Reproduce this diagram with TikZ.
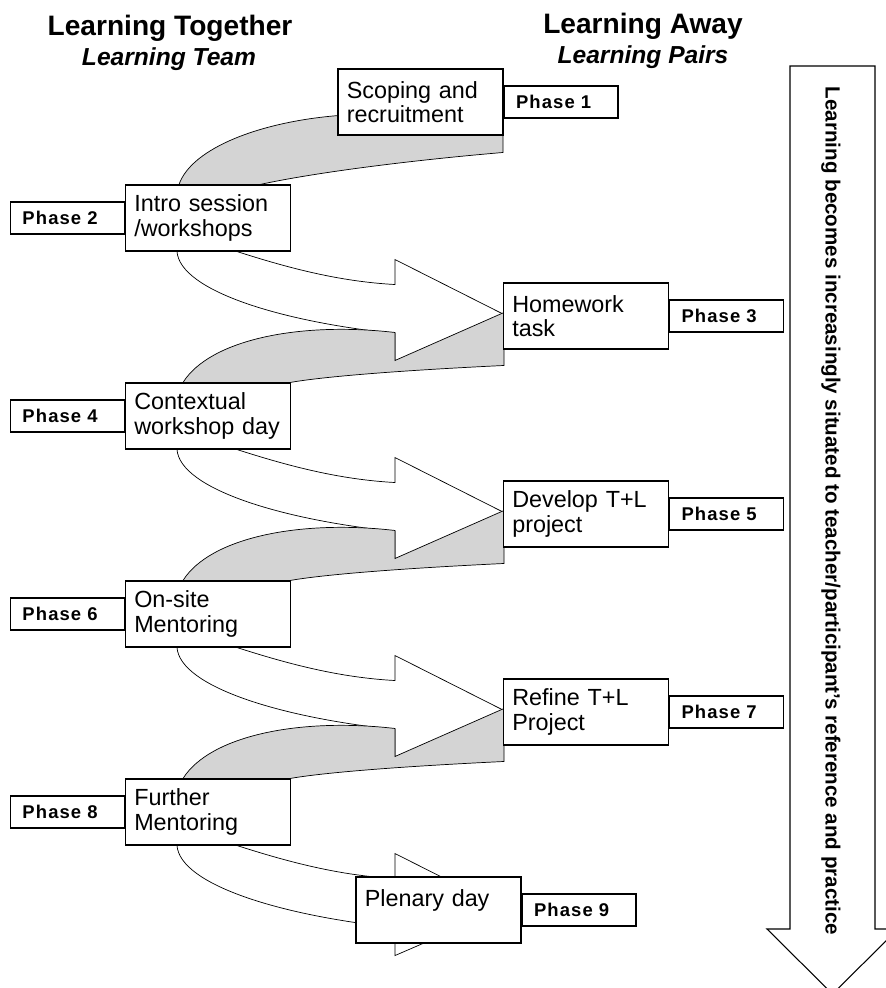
\documentclass[tikz,border=0pt]{standalone}
\usepackage{fontspec}
\setmainfont{Liberation Sans}
\newfontfamily\phasefont[LetterSpace=6]{Liberation Sans}
\usetikzlibrary{positioning,backgrounds}
\tikzstyle{stage}=[draw, fill=white, text width=2.95cm, align=left, inner sep=0pt, minimum width=3.3cm, minimum height=1.32cm, font=\fontsize{13.3}{14}\selectfont]
\tikzstyle{phase}=[draw, fill=white, text width=1.8cm, align=left, inner xsep=0.24cm, inner ysep=0pt, minimum height=0.64cm, font=\phasefont\bfseries\fontsize{10.5}{12}\selectfont]
\tikzstyle{band}=[draw, fill=black!17]
\tikzstyle{fwd}=[draw, fill=white]
\tikzstyle{title}=[anchor=base, font=\bfseries\fontsize{16}{19}\selectfont]
\tikzstyle{subtitle}=[anchor=base, font=\bfseries\itshape\fontsize{14}{17}\selectfont]

\begin{document}
\begin{tikzpicture}[x=0.02cm,y=-0.02cm,line width=0.6pt]
\useasboundingbox (0,0) rectangle (886,988);
% column headings
\node [title] (together) at (170,35) {Learning Together};
\node [subtitle] (team) at (169,65) {Learning Team};
\node [title] (away) at (643,33) {Learning Away};
\node [subtitle] (pairs) at (643,63) {Learning Pairs};
% big arrow down the right side
\draw [fwd] (790,66) -- (875,66) -- (875,929) -- (898,929) -- (832.5,994) -- (767,929) -- (790,929) -- cycle;
\node [rotate=-90, font=\bfseries\fontsize{11.7}{14}\selectfont] (situated) at (831,511) {Learning becomes increasingly situated to teacher/participant's reference and practice};
% stages
\node [stage] (scoping) at (420.5,102) {Scoping and\\recruitment};
\node [phase, right=0pt of scoping] (p1) {Phase 1};
\node [stage] (intro) at (208,218) {Intro session\\/workshops};
\node [phase, left=0pt of intro] (p2) {Phase 2};
\node [stage] (homework) at (586,316) {Homework\\task};
\node [phase, right=0pt of homework] (p3) {Phase 3};
\node [stage] (context) at (208,416) {Contextual\\workshop day};
\node [phase, left=0pt of context] (p4) {Phase 4};
\node [stage] (develop) at (586,514) {Develop T+L\\project};
\node [phase, right=0pt of develop] (p5) {Phase 5};
\node [stage] (onsite) at (208,614) {On-site\\Mentoring};
\node [phase, left=0pt of onsite] (p6) {Phase 6};
\node [stage] (refine) at (586,712) {Refine T+L\\Project};
\node [phase, right=0pt of refine] (p7) {Phase 7};
\node [stage] (further) at (208,812) {Further\\Mentoring};
\node [phase, left=0pt of further] (p8) {Phase 8};
\node [stage] (plenary) at (438.5,910) {Plenary day\\\mbox{}};
\node [phase, right=0pt of plenary] (p9) {Phase 9};
% block arrows behind the boxes
\begin{scope}[on background layer]
  \begin{scope}[shift={(intro.north)}]
    \draw [band] (-29,0) .. controls (-16,-37) and (54,-63) .. (131,-69) -- (295,-69) -- (295,-32) .. controls (212,-25) and (112,-13) .. (52,0) -- cycle;
  \end{scope}
  \foreach \a in {intro,context,onsite,further} {
    \begin{scope}[shift={(\a.south)}]
      \draw [fwd] (29,0) .. controls (82,17) and (132,30) .. (187,33) -- (187,8) -- (296,63) -- (187,110) -- (187,82) .. controls (72,70) and (-28,39) .. (-31,0) -- cycle;
    \end{scope}
  }
  \foreach \b in {context,onsite,further} {
    \begin{scope}[shift={(\b.north)}]
      \draw [band] (-25,0) .. controls (2,-43) and (92,-61) .. (187,-50) -- (187,-22) -- (296,-70) -- (296,-17) .. controls (212,-13) and (122,-7) .. (82,0) -- cycle;
    \end{scope}
  }
\end{scope}
\end{tikzpicture}
\end{document}
